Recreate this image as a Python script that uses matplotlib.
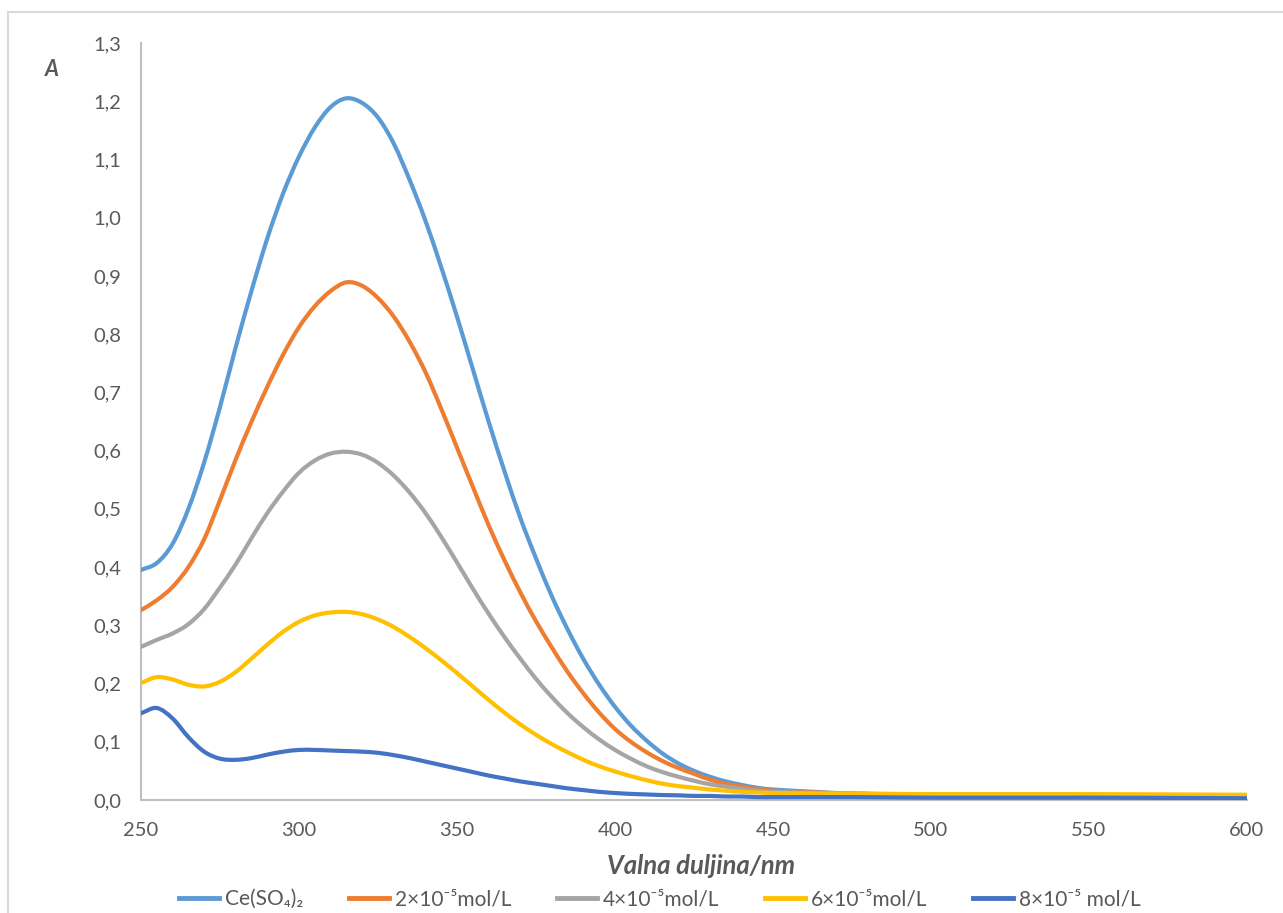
import matplotlib
matplotlib.use("Agg")
import matplotlib.pyplot as plt
from matplotlib.lines import Line2D
from matplotlib.path import Path
from matplotlib.patches import PathPatch
from matplotlib.ticker import FuncFormatter

wavelength = [250, 255, 260, 265, 270, 275, 280, 285, 290, 295, 300, 305, 310, 315, 320,
              325, 330, 335, 340, 345, 350, 355, 360, 365, 370, 375, 380, 385, 390, 395,
              400, 405, 410, 415, 420, 425, 430, 435, 440, 445, 450, 475, 500, 550, 600]

ce_so4 = [0.395, 0.407, 0.44, 0.5, 0.58, 0.675, 0.778, 0.875, 0.965, 1.042, 1.105, 1.155, 1.19, 1.205, 1.197,
          1.172, 1.127, 1.065, 0.995, 0.915, 0.83, 0.74, 0.65, 0.565, 0.485, 0.415, 0.35, 0.293, 0.242, 0.198,
          0.16, 0.128, 0.102, 0.08, 0.063, 0.05, 0.04, 0.032, 0.026, 0.021, 0.018, 0.011, 0.009, 0.007, 0.006]

c2 = [0.326, 0.343, 0.366, 0.4, 0.448, 0.515, 0.585, 0.65, 0.71, 0.765, 0.812, 0.848, 0.874, 0.889, 0.883,
      0.862, 0.83, 0.787, 0.735, 0.672, 0.605, 0.538, 0.472, 0.412, 0.357, 0.307, 0.262, 0.22, 0.183, 0.15,
      0.122, 0.1, 0.082, 0.067, 0.055, 0.045, 0.035, 0.028, 0.023, 0.019, 0.016, 0.011, 0.009, 0.008, 0.007]

c4 = [0.263, 0.275, 0.286, 0.302, 0.328, 0.365, 0.405, 0.45, 0.493, 0.53, 0.562, 0.583, 0.595, 0.598, 0.593,
      0.579, 0.557, 0.528, 0.493, 0.452, 0.408, 0.363, 0.32, 0.28, 0.243, 0.208, 0.177, 0.149, 0.125, 0.104,
      0.086, 0.071, 0.058, 0.048, 0.04, 0.033, 0.027, 0.023, 0.019, 0.016, 0.014, 0.011, 0.01, 0.009, 0.008]

c6 = [0.201, 0.211, 0.207, 0.198, 0.195, 0.203, 0.22, 0.243, 0.267, 0.289, 0.306, 0.317, 0.322, 0.323, 0.319,
      0.31, 0.297, 0.28, 0.261, 0.24, 0.218, 0.195, 0.172, 0.15, 0.13, 0.112, 0.096, 0.082, 0.069, 0.058,
      0.049, 0.041, 0.034, 0.028, 0.024, 0.021, 0.018, 0.016, 0.014, 0.013, 0.012, 0.011, 0.01, 0.01, 0.009]

c8 = [0.149, 0.158, 0.14, 0.108, 0.083, 0.071, 0.069, 0.072, 0.078, 0.083, 0.086, 0.086, 0.085, 0.084, 0.083,
      0.081, 0.077, 0.072, 0.066, 0.06, 0.054, 0.048, 0.042, 0.037, 0.032, 0.028, 0.024, 0.02, 0.017, 0.014,
      0.012, 0.0105, 0.0095, 0.0085, 0.008, 0.007, 0.007, 0.006, 0.006, 0.005, 0.005, 0.005, 0.004, 0.004, 0.003]

series_labels = ["Ce(SO₄)₂", "2×10⁻⁵mol/L", "4×10⁻⁵mol/L", "6×10⁻⁵mol/L", "8×10⁻⁵ mol/L"]
series_colors = ["#5B9BD5", "#ED7D31", "#A5A5A5", "#FFC000", "#4472C4"]
series_values = [ce_so4, c2, c4, c6, c8]

x_ticks = [250, 300, 350, 400, 450, 500, 550, 600]
y_ticks = [0.0, 0.1, 0.2, 0.3, 0.4, 0.5, 0.6, 0.7, 0.8, 0.9, 1.0, 1.1, 1.2, 1.3]

plt.rcParams['font.family'] = ['Lato', 'DejaVu Sans']


def smooth_path(xs, ys):
    """Excel-style smoothed line: Catmull-Rom segments as cubic Bezier curves."""
    n = len(xs)
    verts = [(xs[0], ys[0])]
    codes = [Path.MOVETO]
    for i in range(n - 1):
        x0, y0 = (xs[i - 1], ys[i - 1]) if i > 0 else (xs[i], ys[i])
        x1, y1 = xs[i], ys[i]
        x2, y2 = xs[i + 1], ys[i + 1]
        x3, y3 = (xs[i + 2], ys[i + 2]) if i + 2 < n else (x2, y2)
        h = x2 - x1
        t1 = ((y2 - y0) / (x2 - x0)) if x2 != x0 else 0.0
        t2 = ((y3 - y1) / (x3 - x1)) if x3 != x1 else 0.0
        verts += [(x1 + h / 3, y1 + t1 * h / 3), (x2 - h / 3, y2 - t2 * h / 3), (x2, y2)]
        codes += [Path.CURVE4] * 3
    return Path(verts, codes)


W, H = 1283, 913
fig = plt.figure(figsize=(W / 100, H / 100), dpi=100)
ax = fig.add_axes([141 / W, 1 - 800 / H, (1247 - 141) / W, (800 - 43) / H])

for vals, col in zip(series_values, series_colors):
    patch = PathPatch(smooth_path(wavelength, vals), facecolor='none', edgecolor=col,
                      lw=3.0, capstyle='round', joinstyle='round', transform=ax.transData)
    ax.add_patch(patch)

ax.set_xlim(250, 600)
ax.set_ylim(0, 1.3)
ax.set_xticks(x_ticks)
ax.set_yticks(y_ticks)
ax.yaxis.set_major_formatter(FuncFormatter(lambda v, p: f"{v:.1f}".replace('.', ',')))
ax.tick_params(axis='both', length=0, labelsize=14.5, colors='#595959')
ax.tick_params(axis='x', pad=16)
ax.tick_params(axis='y', pad=14)

for s in ['top', 'right']:
    ax.spines[s].set_visible(False)
for s in ['left', 'bottom']:
    ax.spines[s].set_color('#BFBFBF')
    ax.spines[s].set_linewidth(1.5)
    ax.spines[s].set_zorder(0.5)

fig.text(52 / W, 1 - 70 / H, "A", fontsize=15.5, fontweight='bold', fontstyle='italic',
         color='#595959', ha='center', va='center')
fig.text(701 / W, 1 - 866 / H, "Valna duljina/nm", fontsize=18.5, fontweight='bold',
         fontstyle='italic', color='#595959', ha='center', va='center')

handles = [Line2D([0], [0], color=c, lw=3.5) for c in series_colors]
leg = fig.legend(handles, series_labels, loc='center', bbox_to_anchor=(660 / W, 1 - 899 / H),
                 ncol=5, frameon=False, fontsize=15, handlelength=1.9, handletextpad=0.3,
                 columnspacing=2.2)
for t in leg.get_texts():
    t.set_color('#595959')

fig.add_artist(Line2D([8 / W, 1], [1 - 12 / H, 1 - 12 / H], transform=fig.transFigure,
                      color='#D9D9D9', lw=1.5))
fig.add_artist(Line2D([8 / W, 8 / W], [0, 1 - 12 / H], transform=fig.transFigure,
                      color='#D9D9D9', lw=1.5))

fig.savefig("out.png", dpi=100)
